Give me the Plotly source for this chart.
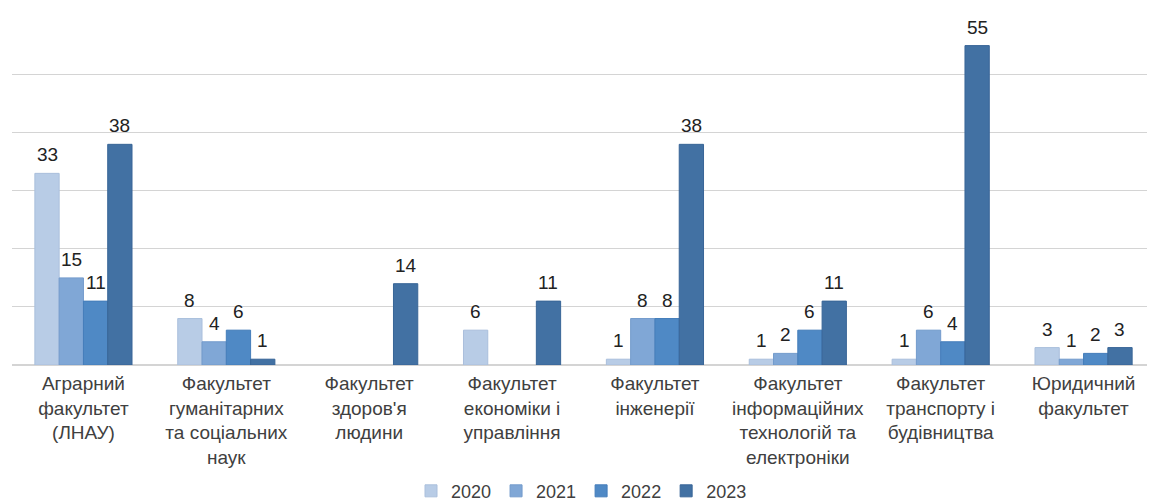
import plotly.graph_objects as go

FACULTETY = [
    "Аграрний<br>факультет<br>(ЛНАУ)",
    "Факультет<br>гуманітарних<br>та соціальних<br>наук",
    "Факультет<br>здоров'я<br>людини",
    "Факультет<br>економіки і<br>управління",
    "Факультет<br>інженерії",
    "Факультет<br>інформаційних<br>технологій та<br>електроніки",
    "Факультет<br>транспорту і<br>будівництва",
    "Юридичний<br>факультет",
]

ROKY = ["2020", "2021", "2022", "2023"]
V_2020 = [33, 8, None, 6, 1, 1, 1, 3]
V_2021 = [15, 4, None, None, 8, 2, 6, 1]
V_2022 = [11, 6, None, None, 8, 6, 4, 2]
V_2023 = [38, 1, 14, 11, 38, 11, 55, 3]

KOLORY = ["#b8cce6", "#80a7d6", "#4f89c5", "#4271a3"]
OBVIDKY = ["#aabfdc", "#739bcc", "#447dba", "#386597"]

# сторінка має відступ 8px, тому фігура трохи менша за вікно
SHYRYNA, VYSOTA = 1147, 494
MARGIN = {"l": 4, "r": 0, "t": 8, "b": 137}
BARGAP = 0.32

# ширина одного стовпчика у пікселях — для зсуву підписів
shyryna_kat = (SHYRYNA - MARGIN["l"] - MARGIN["r"]) / len(FACULTETY)
shyryna_stovp = shyryna_kat * (1 - BARGAP) / len(ROKY)

fig = go.Figure()
dani = [V_2020, V_2021, V_2022, V_2023]
for i, (rik, znach, kolir, obv) in enumerate(zip(ROKY, dani, KOLORY, OBVIDKY)):
    fig.add_trace(
        go.Bar(
            x=FACULTETY,
            y=znach,
            name=rik,
            marker={"color": kolir, "line": {"color": obv, "width": 1}},
            cliponaxis=False,
        )
    )
    zsuv = (i - (len(ROKY) - 1) / 2) * shyryna_stovp
    for kat, v in zip(FACULTETY, znach):
        if v is None:
            continue
        fig.add_annotation(
            x=kat,
            y=v,
            text=str(v),
            showarrow=False,
            xshift=zsuv,
            yshift=6,
            yanchor="bottom",
            font={"size": 19, "color": "#222222"},
        )

fig.update_layout(
    barmode="group",
    bargap=BARGAP,
    bargroupgap=0,
    width=SHYRYNA,
    height=VYSOTA,
    margin={**MARGIN, "autoexpand": False},
    paper_bgcolor="white",
    plot_bgcolor="white",
    font={"family": "Liberation Sans, Arial, sans-serif", "size": 18, "color": "#404040"},
    legend={
        "orientation": "h",
        "x": 0.5,
        "xanchor": "center",
        "xref": "container",
        "y": 0.022,
        "yanchor": "middle",
        "yref": "container",
        "font": {"size": 18, "color": "#404040"},
        "itemwidth": 30,
        "traceorder": "normal",
    },
    showlegend=True,
)
fig.update_yaxes(
    range=[0, 60.1],
    dtick=10,
    showgrid=True,
    gridcolor="#d4d4d4",
    gridwidth=1,
    showticklabels=False,
    zeroline=True,
    zerolinecolor="#d4d4d4",
    automargin=False,
)
fig.update_xaxes(
    showline=False,
    tickfont={"size": 19, "color": "#404040"},
    ticks="",
    ticklabelstandoff=5,
    automargin=False,
)

fig.write_html("out.html")
